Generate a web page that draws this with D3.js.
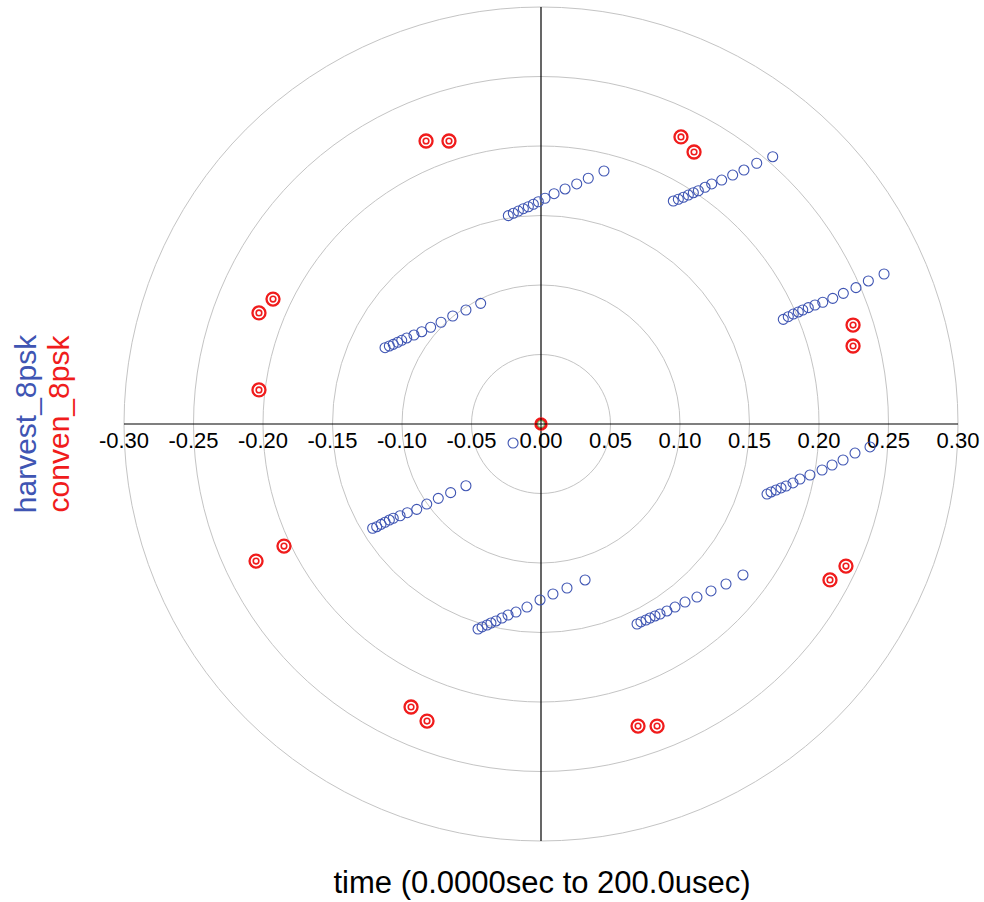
<!DOCTYPE html>
<html>
<head>
<meta charset="utf-8">
<script src="https://cdn.jsdelivr.net/npm/d3@7"></script>
<style>
  html, body { margin: 0; padding: 0; background: #fff; }
  svg { display: block; }
  text { font-family: "Liberation Sans", Arial, sans-serif; }
</style>
</head>
<body>
<svg id="chart" width="984" height="902"></svg>
<script>
// Polar constellation: harvest_8psk (blue sweeps) vs conven_8psk (red points)
const ringValues = [0.05, 0.10, 0.15, 0.20, 0.25, 0.30];
const tickValues = [-0.30, -0.25, -0.20, -0.15, -0.10, -0.05, 0.00, 0.05, 0.10, 0.15, 0.20, 0.25, 0.30];

// harvest_8psk: eight symbol trails, each a list of x (in-phase) and y (quadrature) samples
const harvestA_x = [-0.0235, -0.0199, -0.0163, -0.0127, -0.0091, -0.0055, -0.0019, 0.0029, 0.0094, 0.0173, 0.0257, 0.0340, 0.0453];
const harvestA_y = [0.1499, 0.1516, 0.1532, 0.1549, 0.1563, 0.1581, 0.1599, 0.1624, 0.1657, 0.1691, 0.1727, 0.1768, 0.1820];
const harvestB_x = [0.0952, 0.0988, 0.1024, 0.1060, 0.1096, 0.1132, 0.1180, 0.1228, 0.1300, 0.1379, 0.1460, 0.1552, 0.1667];
const harvestB_y = [0.1604, 0.1617, 0.1631, 0.1647, 0.1664, 0.1678, 0.1703, 0.1727, 0.1755, 0.1791, 0.1827, 0.1876, 0.1923];
const harvestC_x = [0.1743, 0.1779, 0.1815, 0.1851, 0.1883, 0.1923, 0.1971, 0.2027, 0.2099, 0.2175, 0.2266, 0.2355, 0.2468];
const harvestC_y = [0.0753, 0.0772, 0.0791, 0.0806, 0.0820, 0.0837, 0.0856, 0.0876, 0.0904, 0.0940, 0.0981, 0.1029, 0.1079];
const harvestD_x = [-0.1122, -0.1091, -0.1063, -0.1031, -0.1002, -0.0966, -0.0914, -0.0858, -0.0794, -0.0719, -0.0635, -0.0540, -0.0434];
const harvestD_y = [0.0549, 0.0561, 0.0573, 0.0588, 0.0602, 0.0619, 0.0640, 0.0664, 0.0696, 0.0732, 0.0777, 0.0820, 0.0868];
const harvestE_x = [-0.1211, -0.1182, -0.1151, -0.1122, -0.1091, -0.1063, -0.1014, -0.0962, -0.0894, -0.0822, -0.0739, -0.0650, -0.0540];
const harvestE_y = [-0.0750, -0.0739, -0.0722, -0.0707, -0.0691, -0.0678, -0.0660, -0.0638, -0.0614, -0.0576, -0.0535, -0.0494, -0.0444];
const harvestF_x = [-0.0453, -0.0424, -0.0388, -0.0360, -0.0324, -0.0281, -0.0237, -0.0180, -0.0101, -0.0007, 0.0086, 0.0187, 0.0317];
const harvestF_y = [-0.1475, -0.1460, -0.1446, -0.1432, -0.1417, -0.1396, -0.1374, -0.1353, -0.1317, -0.1266, -0.1223, -0.1180, -0.1122];
const harvestG_x = [0.0691, 0.0719, 0.0755, 0.0784, 0.0820, 0.0856, 0.0906, 0.0964, 0.1036, 0.1122, 0.1223, 0.1331, 0.1453];
const harvestG_y = [-0.1439, -0.1424, -0.1410, -0.1396, -0.1381, -0.1367, -0.1345, -0.1317, -0.1281, -0.1245, -0.1201, -0.1151, -0.1086];
const harvestH_x = [0.1626, 0.1655, 0.1691, 0.1727, 0.1763, 0.1813, 0.1863, 0.1935, 0.2022, 0.2094, 0.2173, 0.2259, 0.2367];
const harvestH_y = [-0.0504, -0.0489, -0.0475, -0.0460, -0.0446, -0.0424, -0.0396, -0.0367, -0.0331, -0.0295, -0.0259, -0.0209, -0.0165];
const harvestStray_x = [-0.0201];
const harvestStray_y = [-0.0137];

// conven_8psk: settled symbol points
const conven_x = [-0.0827, -0.0662, 0.1007, 0.1101, -0.1928, -0.2029, -0.2029, 0.2245, 0.2245,
                  -0.1849, -0.2050, 0.2079, 0.2194, -0.0935, -0.0820, 0.0698, 0.0835];
const conven_y = [0.2036, 0.2036, 0.2065, 0.1957, 0.0899, 0.0799, 0.0245, 0.0712, 0.0561,
                  -0.0878, -0.0986, -0.1122, -0.1022, -0.2036, -0.2137, -0.2173, -0.2173];
const origin_x = [0.0];
const origin_y = [0.0];

const xTitle = "time (0.0000sec to 200.0usec)";
const seriesNames = ["harvest_8psk", "conven_8psk"];

const BLUE = "#3f55b3";
const RED = "#f01c1c";

const svg = d3.select("#chart");
const x = d3.scaleLinear().domain([-0.3, 0.3]).range([124, 958]);
const y = d3.scaleLinear().domain([-0.3, 0.3]).range([841, 7]);
const cx = x(0), cy = y(0);
const rScale = d3.scaleLinear().domain([0, 0.3]).range([0, x(0.3) - x(0)]);

// concentric grid rings
svg.append("g").selectAll("circle").data(ringValues).join("circle")
  .attr("cx", cx).attr("cy", cy).attr("r", d => rScale(d))
  .attr("fill", "none").attr("stroke", "#c4c4c4").attr("stroke-width", 1);

// cross-hair axes
svg.append("line").attr("x1", x(-0.3)).attr("x2", x(0.3)).attr("y1", cy).attr("y2", cy)
  .attr("stroke", "#000").attr("stroke-width", 1.2);
svg.append("line").attr("x1", cx).attr("x2", cx).attr("y1", y(0.3)).attr("y2", y(-0.3))
  .attr("stroke", "#000").attr("stroke-width", 1.2);

// tick labels along the horizontal axis
svg.append("g").selectAll("text").data(tickValues).join("text")
  .attr("x", d => x(d)).attr("y", cy + 24)
  .attr("text-anchor", "middle").attr("font-size", 22).attr("fill", "#000")
  .text(d => (Math.abs(d) < 1e-9 ? 0 : d).toFixed(2));

// harvest trails
const trails = [
  [harvestA_x, harvestA_y], [harvestB_x, harvestB_y], [harvestC_x, harvestC_y], [harvestD_x, harvestD_y],
  [harvestE_x, harvestE_y], [harvestF_x, harvestF_y], [harvestG_x, harvestG_y], [harvestH_x, harvestH_y],
  [harvestStray_x, harvestStray_y]
];
const harvestPts = trails.flatMap(([xs, ys]) => xs.map((v, i) => [v, ys[i]]));
svg.append("g").selectAll("circle").data(harvestPts).join("circle")
  .attr("cx", d => x(d[0])).attr("cy", d => y(d[1])).attr("r", 5)
  .attr("fill", "none").attr("stroke", BLUE).attr("stroke-width", 1.1);

// conven points: double ring marker
const convenPts = conven_x.map((v, i) => [v, conven_y[i]]);
const cg = svg.append("g");
cg.selectAll("circle.outer").data(convenPts).join("circle").attr("class", "outer")
  .attr("cx", d => x(d[0])).attr("cy", d => y(d[1])).attr("r", 6.5)
  .attr("fill", "none").attr("stroke", RED).attr("stroke-width", 2.3);
cg.selectAll("circle.inner").data(convenPts).join("circle").attr("class", "inner")
  .attr("cx", d => x(d[0])).attr("cy", d => y(d[1])).attr("r", 2.8)
  .attr("fill", "none").attr("stroke", RED).attr("stroke-width", 1.6);

// origin marker
const originPts = origin_x.map((v, i) => [v, origin_y[i]]);
svg.append("g").selectAll("circle").data(originPts).join("circle")
  .attr("cx", d => x(d[0])).attr("cy", d => y(d[1])).attr("r", 6)
  .attr("fill", RED).attr("stroke", RED).attr("stroke-width", 1.5);
svg.append("g").selectAll("circle").data(originPts).join("circle")
  .attr("cx", d => x(d[0])).attr("cy", d => y(d[1])).attr("r", 3.5)
  .attr("fill", "#fff").attr("stroke", "#5cb85c").attr("stroke-width", 1);
svg.append("line").attr("x1", cx - 6).attr("x2", cx + 6).attr("y1", cy).attr("y2", cy).attr("stroke", "#000");
svg.append("line").attr("x1", cx).attr("x2", cx).attr("y1", cy - 6).attr("y2", cy + 6).attr("stroke", "#000");

// axis titles
svg.append("text").attr("x", cx + 1).attr("y", 893).attr("text-anchor", "middle")
  .attr("font-size", 31).attr("fill", "#000").text(xTitle);
svg.append("text").attr("transform", `translate(36,${cy}) rotate(-90)`).attr("text-anchor", "middle")
  .attr("font-size", 30).attr("fill", BLUE).text(seriesNames[0]);
svg.append("text").attr("transform", `translate(69,${cy}) rotate(-90)`).attr("text-anchor", "middle")
  .attr("font-size", 30).attr("fill", RED).text(seriesNames[1]);
</script>
</body>
</html>
